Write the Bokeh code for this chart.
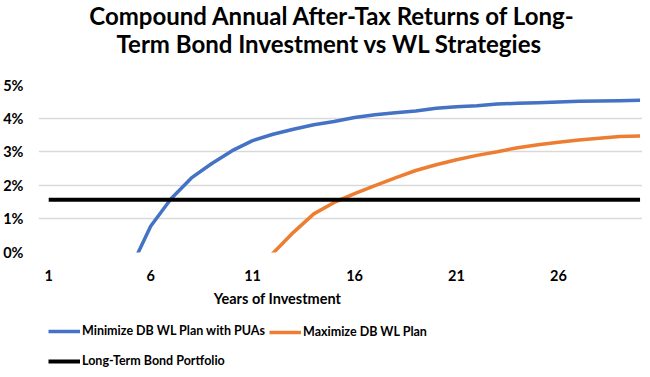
from bokeh.plotting import figure
from bokeh.layouts import column
from bokeh.models import FixedTicker, PrintfTickFormatter, Legend, LegendItem, Label, Range1d
from bokeh.embed import file_html
from bokeh.resources import INLINE

years = list(range(1, 31))
blue_years = list(range(5, 31))
blue_vals = [-0.5, 0.78, 1.6, 2.22, 2.65, 3.03, 3.33, 3.52, 3.67, 3.8, 3.9, 4.02, 4.1, 4.16, 4.21, 4.29,
             4.34, 4.37, 4.42, 4.44, 4.46, 4.48, 4.5, 4.51, 4.52, 4.53]
orange_years = list(range(11, 31))
orange_vals = [-0.8, -0.02, 0.6, 1.15, 1.49, 1.75, 1.99, 2.22, 2.44, 2.61, 2.76, 2.89, 3.0, 3.12, 3.21,
               3.28, 3.35, 3.4, 3.45, 3.47]
bond_val = 1.57
bond_vals = [bond_val] * len(years)
x_ticks = [1, 6, 11, 16, 21, 26]
y_ticks = [0, 1, 2, 3, 4, 5]
names = ["Minimize DB WL Plan with PUAs", "Maximize DB WL Plan", "Long-Term Bond Portfolio"]
title_lines = ["Compound Annual After-Tax Returns of Long-", "Term Bond Investment vs WL Strategies"]
x_label = "Years of Investment"

FONT = "Lato"
W = 642
COLORS = ["#4472C4", "#ED7D31", "#000000"]


def blank(height):
    f = figure(width=W, height=height, output_backend="svg", toolbar_location=None,
               x_axis_type=None, y_axis_type=None,
               x_range=Range1d(0, 1), y_range=Range1d(0, 1),
               min_border_left=0, min_border_right=0, min_border_top=0, min_border_bottom=0)
    f.outline_line_color = None
    f.grid.grid_line_color = None
    return f


# --- title strip ---
p0 = blank(76)
for txt, xx, yy in zip(title_lines, [294, 291], [61.5, 33.5]):
    p0.add_layout(Label(x=xx, y=yy, x_units="screen", y_units="screen", text=txt,
                        text_font=FONT, text_font_size="24px", text_font_style="bold",
                        text_color="#000000", text_align="center", text_baseline="alphabetic"))

# --- main chart ---
p = figure(width=W, height=212, output_backend="svg", toolbar_location=None,
           x_range=Range1d(0.5, 30.12), y_range=Range1d(0, 5),
           min_border_left=38, min_border_right=0, min_border_top=8, min_border_bottom=36)
p.outline_line_color = None

p.xgrid.grid_line_color = None
p.ygrid.grid_line_color = "#d9d9d9"
p.ygrid.grid_line_width = 1.5
p.ygrid.ticker = FixedTicker(ticks=y_ticks)

p.xaxis.ticker = FixedTicker(ticks=x_ticks)
p.yaxis.ticker = FixedTicker(ticks=y_ticks)
p.yaxis.formatter = PrintfTickFormatter(format="%d%%")
for ax in (p.xaxis[0], p.yaxis[0]):
    ax.axis_line_color = None
    ax.major_tick_line_color = None
    ax.minor_tick_line_color = None
    ax.major_tick_out = 0
    ax.major_tick_in = 0
    ax.major_label_text_font = FONT
    ax.major_label_text_font_size = "14.5px"
    ax.major_label_text_font_style = "bold"
    ax.major_label_text_color = "#000000"
p.yaxis.major_label_standoff = 15
p.xaxis.major_label_standoff = 17

p.line(blue_years, blue_vals, line_color=COLORS[0], line_width=3.5)
p.line(orange_years, orange_vals, line_color=COLORS[1], line_width=3.5)
p.line(years, bond_vals, line_color=COLORS[2], line_width=4)

# --- axis title + legend strip ---
p2 = blank(81)
p2.add_layout(Label(x=239, y=71, x_units="screen", y_units="screen", text=x_label,
                    text_font=FONT, text_font_size="14.5px", text_font_style="bold",
                    text_color="#000000", text_align="center", text_baseline="middle"))
# legend keys (hidden copies of the series, only their legend swatches are shown)
l1 = p2.line(blue_years, blue_vals, line_color=COLORS[0], line_width=3.5, visible=False)
l2 = p2.line(orange_years, orange_vals, line_color=COLORS[1], line_width=3.5, visible=False)
l3 = p2.line(years, bond_vals, line_color=COLORS[2], line_width=4, visible=False)

legend_style = dict(glyph_width=32, glyph_height=14, label_height=14,
                    label_text_font=FONT, label_text_font_size="12.5px", label_text_font_style="bold",
                    label_text_color="#000000", label_standoff=2, padding=0, margin=0,
                    border_line_color=None, background_fill_alpha=0, inactive_fill_alpha=0,
                    click_policy="none")
legend_a = Legend(items=[LegendItem(label=names[0], renderers=[l1]),
                         LegendItem(label=names[2], renderers=[l3])],
                  location=(10, 1), spacing=15, **legend_style)
legend_b = Legend(items=[LegendItem(label=names[1], renderers=[l2])],
                  location=(231, 30), spacing=0, **legend_style)
p2.add_layout(legend_a, "center")
p2.add_layout(legend_b, "center")

open("out.html", "w").write(file_html(column(p0, p, p2), INLINE))
